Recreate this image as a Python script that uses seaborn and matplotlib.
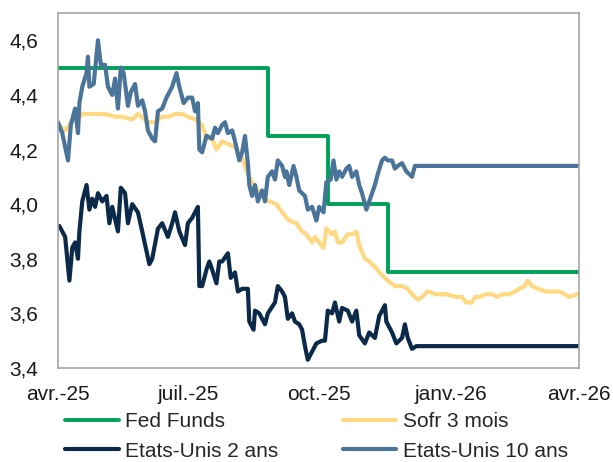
import matplotlib
matplotlib.use("Agg")
import matplotlib.pyplot as plt
import numpy as np
import pandas as pd
import seaborn as sns

# day offsets are counted from 1 April 2025
START = pd.Timestamp("2025-04-01")

fed_days = [0, 147, 189, 231, 365]
fed_vals = [4.50, 4.25, 4.00, 3.75, 3.75]

sofr_days = [0, 5, 8, 12, 15, 17, 22, 33, 40, 45, 52, 56, 61, 64, 68, 73, 77, 82, 87, 91,
             96, 101, 104, 108, 111, 115, 119, 124, 129, 133, 136, 140, 145, 148, 153, 157,
             162, 167, 171, 174, 178, 180, 183, 186, 188, 192, 194, 196, 199, 203, 206, 209,
             211, 215, 218, 222, 227, 231, 236, 241, 245, 248, 252, 255, 259, 265, 272, 279,
             283, 286, 290, 292, 295, 300, 304, 308, 311, 316, 320, 323, 327, 329, 332, 336,
             342, 346, 351, 355, 358, 364]
sofr_vals = [4.29, 4.27, 4.29, 4.32, 4.32, 4.33, 4.33, 4.33, 4.32, 4.32, 4.31, 4.33, 4.31,
             4.30, 4.30, 4.32, 4.32, 4.33, 4.33, 4.32, 4.31, 4.29, 4.24, 4.24, 4.20, 4.23,
             4.22, 4.21, 4.17, 4.11, 4.08, 4.05, 4.02, 4.01, 4.00, 3.97, 3.94, 3.93, 3.90,
             3.89, 3.86, 3.88, 3.86, 3.84, 3.91, 3.89, 3.90, 3.86, 3.86, 3.89, 3.89, 3.90,
             3.85, 3.80, 3.79, 3.77, 3.74, 3.72, 3.70, 3.70, 3.69, 3.67, 3.65, 3.66, 3.68,
             3.67, 3.67, 3.66, 3.66, 3.64, 3.64, 3.66, 3.66, 3.67, 3.67, 3.66, 3.67, 3.67,
             3.68, 3.69, 3.70, 3.72, 3.70, 3.69, 3.68, 3.68, 3.68, 3.67, 3.66, 3.67]

us2_days = [1, 5, 8, 10, 12, 14, 15, 17, 20, 22, 24, 26, 28, 31, 34, 36, 38, 42, 44, 47,
            49, 52, 56, 59, 64, 66, 70, 73, 77, 80, 82, 85, 89, 91, 94, 98, 99, 101, 104,
            106, 108, 111, 113, 115, 119, 121, 124, 126, 129, 133, 134, 137, 138, 141, 145,
            147, 152, 154, 157, 159, 161, 164, 166, 169, 171, 173, 175, 178, 181, 185, 187,
            189, 192, 194, 197, 199, 203, 206, 209, 211, 215, 218, 222, 225, 229, 230, 234,
            237, 241, 243, 245, 248, 251, 365]
us2_vals = [3.92, 3.88, 3.72, 3.84, 3.86, 3.80, 3.90, 4.01, 4.07, 3.98, 4.02, 3.99, 4.04,
            4.01, 4.03, 3.93, 3.99, 3.90, 4.06, 4.04, 3.93, 4.00, 3.97, 3.90, 3.78, 3.80,
            3.91, 3.93, 3.88, 3.93, 3.97, 3.90, 3.85, 3.93, 3.95, 3.99, 3.70, 3.70, 3.76,
            3.79, 3.76, 3.71, 3.79, 3.79, 3.82, 3.73, 3.75, 3.68, 3.69, 3.69, 3.57, 3.54,
            3.61, 3.60, 3.56, 3.60, 3.64, 3.70, 3.68, 3.66, 3.58, 3.60, 3.57, 3.56, 3.54,
            3.48, 3.43, 3.46, 3.49, 3.50, 3.50, 3.61, 3.60, 3.64, 3.57, 3.62, 3.61, 3.57,
            3.61, 3.52, 3.49, 3.53, 3.51, 3.59, 3.63, 3.57, 3.53, 3.49, 3.51, 3.56, 3.51,
            3.47, 3.48, 3.48]

us10_days = [0, 3, 7, 9, 12, 14, 15, 17, 20, 21, 22, 25, 28, 30, 33, 35, 38, 40, 42, 44,
             46, 49, 51, 54, 56, 59, 61, 63, 66, 68, 70, 73, 76, 78, 80, 83, 85, 88, 91, 94,
             96, 98, 99, 101, 104, 108, 110, 112, 115, 117, 119, 122, 124, 127, 129, 131,
             133, 134, 136, 138, 140, 143, 145, 147, 150, 152, 154, 157, 159, 160, 162, 165,
             167, 169, 173, 175, 178, 181, 183, 186, 188, 191, 193, 195, 197, 199, 202, 204,
             206, 209, 211, 213, 216, 220, 222, 224, 227, 229, 231, 234, 236, 238, 241, 244,
             246, 248, 250, 365]
us10_vals = [4.30, 4.26, 4.16, 4.29, 4.35, 4.26, 4.37, 4.43, 4.48, 4.54, 4.43, 4.44, 4.60,
             4.51, 4.51, 4.43, 4.40, 4.46, 4.35, 4.50, 4.48, 4.36, 4.41, 4.44, 4.36, 4.38,
             4.34, 4.27, 4.24, 4.23, 4.34, 4.35, 4.39, 4.41, 4.43, 4.48, 4.43, 4.37, 4.39,
             4.39, 4.34, 4.37, 4.20, 4.19, 4.25, 4.24, 4.28, 4.26, 4.29, 4.30, 4.26, 4.27,
             4.23, 4.16, 4.19, 4.25, 4.15, 4.07, 4.03, 4.07, 4.01, 4.05, 4.01, 4.10, 4.12,
             4.09, 4.16, 4.14, 4.10, 4.12, 4.07, 4.14, 4.10, 4.05, 4.03, 3.98, 3.99, 3.94,
             3.99, 3.97, 4.08, 4.09, 4.16, 4.09, 4.12, 4.10, 4.13, 4.14, 4.10, 4.12, 4.07,
             4.04, 3.98, 4.04, 4.07, 4.11, 4.16, 4.17, 4.16, 4.16, 4.13, 4.14, 4.15, 4.12,
             4.11, 4.10, 4.14, 4.14]

month_ticks = ["2025-04-01", "2025-07-01", "2025-10-01", "2026-01-01", "2026-04-01"]
month_labels = ["avr.-25", "juil.-25", "oct.-25", "janv.-26", "avr.-26"]
y_ticks = [3.4, 3.6, 3.8, 4.0, 4.2, 4.4, 4.6]

series = [
    ("Fed Funds", fed_days, fed_vals, "#00a05a", 2.8),
    ("Sofr 3 mois", sofr_days, sofr_vals, "#ffd882", 3.0),
    ("Etats-Unis 2 ans", us2_days, us2_vals, "#0b2a4a", 3.0),
    ("Etats-Unis 10 ans", us10_days, us10_vals, "#4a7499", 3.0),
]

sns.set_theme(style="white")
plt.rcParams["font.family"] = ["Liberation Sans", "DejaVu Sans"]

fig = plt.figure(figsize=(6.13, 4.62), dpi=100)
ax = fig.add_axes([0.0946, 0.2035, 0.85, 0.7684])

handles = {}
for name, days, vals, color, lw in series:
    df = pd.DataFrame({
        "date": START + pd.to_timedelta(days, unit="D"),
        "value": vals,
    })
    kw = {"drawstyle": "steps-post"} if name == "Fed Funds" else {}
    sns.lineplot(data=df, x="date", y="value", color=color, linewidth=lw,
                 ax=ax, legend=False, **kw)
    handles[name] = ax.get_lines()[-1]

ax.set_xlim(pd.Timestamp("2025-04-01"), pd.Timestamp("2026-04-01"))
ax.set_ylim(3.4, 4.7)
ax.set_xticks(pd.to_datetime(month_ticks))
ax.set_xticklabels(month_labels)
ax.set_yticks(y_ticks)
ax.set_yticklabels([f"{v:.1f}".replace(".", ",") for v in y_ticks])
ax.tick_params(axis="both", length=0, labelsize=15, colors="#1a1a1a")
ax.tick_params(axis="x", pad=12)
ax.tick_params(axis="y", pad=14)
ax.set_xlabel("")
ax.set_ylabel("")
for sp in ax.spines.values():
    sp.set_color("#a6a6a6")
    sp.set_linewidth(1.2)

# row-major order in a 2-column legend
order = ["Fed Funds", "Etats-Unis 2 ans", "Sofr 3 mois", "Etats-Unis 10 ans"]
fig.legend([handles[k] for k in order], order, ncol=2, frameon=False,
           loc="upper left", bbox_to_anchor=(0.0897, 0.130), borderpad=0,
           fontsize=15, handlelength=2.55, handletextpad=0.33,
           columnspacing=3.1, labelspacing=0.5)

fig.savefig("out.png", dpi=100)
